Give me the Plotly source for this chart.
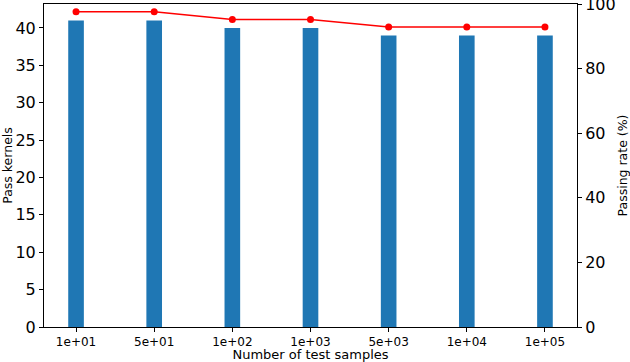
import plotly.graph_objects as go

samples = ["1e+01", "5e+01", "1e+02", "1e+03", "5e+03", "1e+04", "1e+05"]
pass_kernels = [41, 41, 40, 40, 39, 39, 39]
passing_rate = [97.6, 97.6, 95.2, 95.2, 92.9, 92.9, 92.9]

fig = go.Figure()

fig.add_trace(go.Bar(
    x=samples,
    y=pass_kernels,
    width=0.2,
    marker=dict(color="#1f77b4", line=dict(width=0)),
    showlegend=False,
))

fig.add_trace(go.Scatter(
    x=samples,
    y=passing_rate,
    mode="lines+markers",
    line=dict(color="red", width=1.5),
    marker=dict(color="red", size=7),
    yaxis="y2",
    showlegend=False,
))

axis_style = dict(
    showline=True,
    linecolor="black",
    linewidth=1,
    ticks="outside",
    ticklen=4,
    tickcolor="black",
    showgrid=False,
    zeroline=False,
    automargin=False,
    ticklabeloverflow="allow",
)

fig.update_layout(
    width=630,
    height=362,
    margin=dict(l=44, r=53, t=4, b=35),
    plot_bgcolor="white",
    paper_bgcolor="white",
    font=dict(family="DejaVu Sans", color="black"),
    xaxis=dict(
        axis_style,
        type="category",
        range=[-0.41, 6.41],
        mirror=True,
        tickfont=dict(size=12),
        title=dict(text="Number of test samples", font=dict(size=13), standoff=1),
    ),
    yaxis=dict(
        axis_style,
        range=[0, 43.2],
        dtick=5,
        tickfont=dict(size=16),
        title=dict(text="Pass kernels", font=dict(size=12.5), standoff=4),
    ),
    yaxis2=dict(
        axis_style,
        overlaying="y",
        side="right",
        range=[0, 100],
        tickvals=[0, 20, 40, 60, 80, 100],
        tickfont=dict(size=16),
        title=dict(text="Passing rate (%)", font=dict(size=12.5), standoff=14),
    ),
)

fig.write_html(
    "out.html",
    config={"displayModeBar": False},
    post_script="document.body.style.margin='0';",
)
